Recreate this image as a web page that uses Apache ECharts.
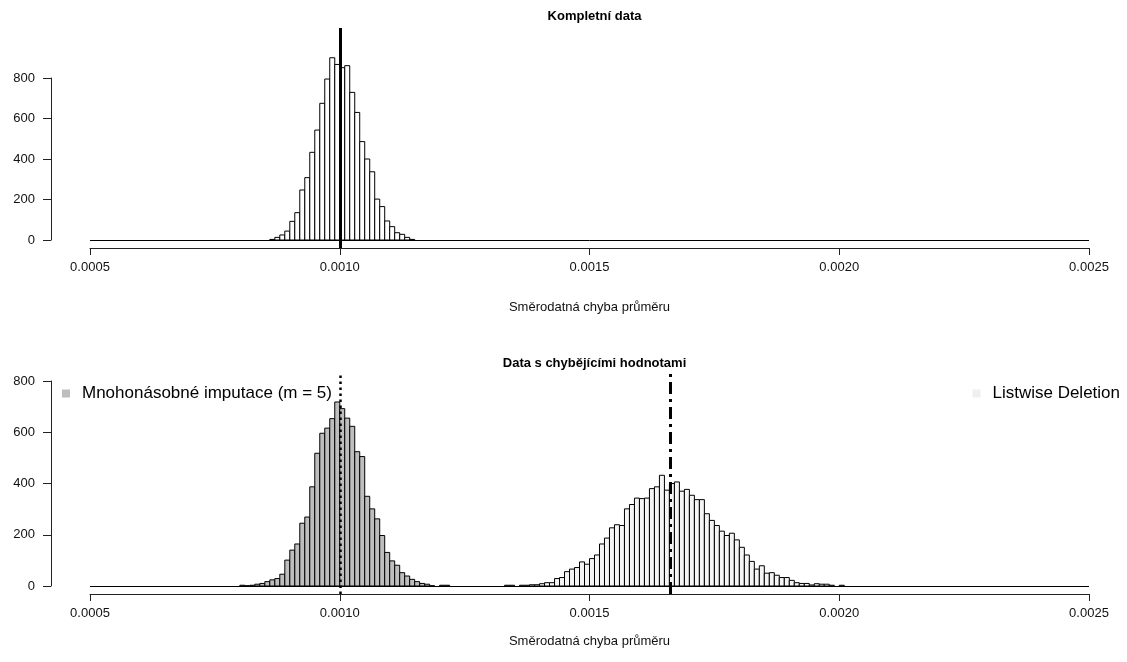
<!DOCTYPE html>
<html><head><meta charset="utf-8">
<script src="https://cdn.jsdelivr.net/npm/echarts@6/dist/echarts.min.js"></script>
<style>html,body{margin:0;padding:0;background:#fff}#c{width:1127px;height:662px}</style>
</head><body><div id="c"></div>
<script>
// ---- data ----
const binWidth = 0.00001;
const xTicks = [0.0005, 0.0010, 0.0015, 0.0020, 0.0025];
const yTicks = [0, 200, 400, 600, 800];

const completeStart = 0.00086;
const completeCounts = [3, 13, 25, 44, 92, 135, 247, 308, 433, 543, 675, 795, 900, 867,
  851, 861, 729, 630, 486, 400, 337, 202, 165, 94, 66, 36, 28, 13, 3];

const miStart = 0.00080;
const miCounts = [3, 1, 3, 7, 10, 17, 24, 29, 46, 101, 140, 164, 245, 269, 387, 518, 596, 616, 653, 718,
  692, 655, 623, 524, 505, 350, 301, 262, 197, 131, 98, 81, 52, 39, 26, 17, 10, 7, 1, 0, 3, 3];

const ldStart = 0.00133;
const ldCounts = [3, 3, 0, 3, 3, 5, 5, 9, 13, 13, 29, 33, 56, 66, 72, 94, 85, 107, 121, 164, 187, 227, 239, 236,
  301, 318, 343, 341, 343, 380, 387, 432, 374, 400, 406, 370, 377, 354, 337, 337, 282, 256, 236, 214,
  197, 206, 180, 151, 121, 96, 66, 79, 50, 52, 42, 33, 33, 22, 13, 10, 10, 4, 9, 7, 7, 3, 0, 3];

const completeLine = 0.001;
const miLine = 0.001;
const ldLine = 0.001662;

const titleTop = 'Kompletní data';
const titleBottom = 'Data s chybějícími hodnotami';
const xName = 'Směrodatná chyba průměru';
const miName = 'Mnohonásobné imputace (m = 5)';
const ldName = 'Listwise Deletion';

// ---- helpers ----
function toData(start, counts) {
  return counts.map((c, i) => [+(start + i * binWidth).toFixed(6), c]);
}
function histItem(fill) {
  return function (params, api) {
    const lo = api.value(0), c = api.value(1);
    if (!(c > 0)) return;
    const a = api.coord([lo, c]);
    const b = api.coord([lo + binWidth, 0]);
    return {
      type: 'rect',
      shape: { x: a[0], y: a[1], width: b[0] - a[0], height: b[1] - a[1] },
      style: { fill: fill, stroke: '#000', lineWidth: 1 }
    };
  };
}
const FONT = '"Liberation Sans", Arial, sans-serif';
const AX = '#222';

function dataX(gi, gap) {
  return {
    type: 'value', gridIndex: gi, min: xTicks[0], max: xTicks[xTicks.length - 1], interval: 0.0005,
    axisLine: { show: true, onZero: false, lineStyle: { color: AX, width: 1 } },
    axisTick: { show: true, length: 7, lineStyle: { color: AX } },
    splitLine: { show: false },
    axisLabel: { color: '#111', fontSize: 13, fontFamily: FONT, margin: 13, formatter: v => v.toFixed(4),
      customValues: xTicks },
    name: xName, nameLocation: 'middle', nameGap: gap,
    nameTextStyle: { fontSize: 13, fontFamily: FONT, color: '#111' }
  };
}
function dataY(gi, mn, mx) {
  return { type: 'value', gridIndex: gi, min: mn, max: mx, show: false, splitLine: { show: false } };
}
function dispY(gi) {
  return {
    type: 'value', gridIndex: gi, min: yTicks[0], max: yTicks[yTicks.length - 1], interval: 200,
    axisLine: { show: true, onZero: false, lineStyle: { color: AX, width: 1 } },
    axisTick: { show: true, length: 8, lineStyle: { color: AX } },
    splitLine: { show: false },
    axisLabel: { color: '#111', fontSize: 13, fontFamily: FONT, margin: 16 }
  };
}
function dispX(gi) {
  return { type: 'value', gridIndex: gi, min: 0, max: 1, show: false };
}
function marks(lines) {
  return {
    silent: true, symbol: ['none', 'none'], label: { show: false }, animation: false,
    precision: 8,
    data: lines
  };
}
function vItem(x, type, width) {
  return { xAxis: x, lineStyle: { color: '#000', type: type, width: width, cap: 'butt' } };
}
function zItem() {
  return { yAxis: 0, lineStyle: { color: '#000', type: 'solid', width: 1 } };
}

const chart = echarts.init(document.getElementById('c'), null, { renderer: 'canvas' });
chart.setOption({
  animation: false,
  backgroundColor: '#fff',
  textStyle: { fontFamily: FONT },
  title: [
    { text: titleTop, left: 589.5, textAlign: 'center', top: 5,
      textStyle: { fontSize: 13, fontWeight: 'bold', color: '#000', fontFamily: FONT } },
    { text: titleBottom, left: 589.5, textAlign: 'center', top: 352,
      textStyle: { fontSize: 13, fontWeight: 'bold', color: '#000', fontFamily: FONT } }
  ],
  legend: [
    { data: [miName], left: 62, top: 385, padding: 0, icon: 'rect', itemWidth: 8, itemHeight: 8, selectedMode: false,
      itemStyle: { borderWidth: 0 },
      textStyle: { fontSize: 17, color: '#000', fontFamily: FONT, padding: [0, 0, 0, 7] } },
    { data: [ldName], right: 7, top: 385, padding: 0, icon: 'rect', itemWidth: 8, itemHeight: 8, selectedMode: false,
      itemStyle: { borderWidth: 0 },
      textStyle: { fontSize: 17, color: '#000', fontFamily: FONT, padding: [0, 0, 0, 7] } }
  ],
  grid: [
    { left: 90, width: 999, top: 28, height: 220 },
    { left: 51, width: 20, top: 78, height: 162 },
    { left: 90, width: 999, top: 372, height: 222 },
    { left: 51, width: 20, top: 381, height: 205 }
  ],
  xAxis: [dataX(0, 53), dispX(1), dataX(2, 41), dispX(3)],
  yAxis: [dataY(0, -39.5, 1047), dispY(1), dataY(2, -31.2, 835), dispY(3)],
  series: [
    { type: 'custom', name: 'complete', xAxisIndex: 0, yAxisIndex: 0, renderItem: histItem('#ffffff'),
      encode: { x: 0, y: 1 }, data: toData(completeStart, completeCounts), z: 2,
      markLine: marks([zItem(), vItem(completeLine, 'solid', 3)]) },

    { type: 'custom', name: miName, xAxisIndex: 2, yAxisIndex: 2, renderItem: histItem('#bebebe'),
      itemStyle: { color: '#bebebe' },
      encode: { x: 0, y: 1 }, data: toData(miStart, miCounts), z: 2,
      markLine: marks([zItem(), vItem(miLine, [2.5, 3.5], 2.5)]) },
    { type: 'custom', name: ldName, xAxisIndex: 2, yAxisIndex: 2, renderItem: histItem('#f5f5f5'),
      itemStyle: { color: '#efefef' },
      encode: { x: 0, y: 1 }, data: toData(ldStart, ldCounts), z: 2,
      markLine: marks([vItem(ldLine, [12, 5, 3, 5], 3)]) }
  ]
});
</script>
</body></html>
